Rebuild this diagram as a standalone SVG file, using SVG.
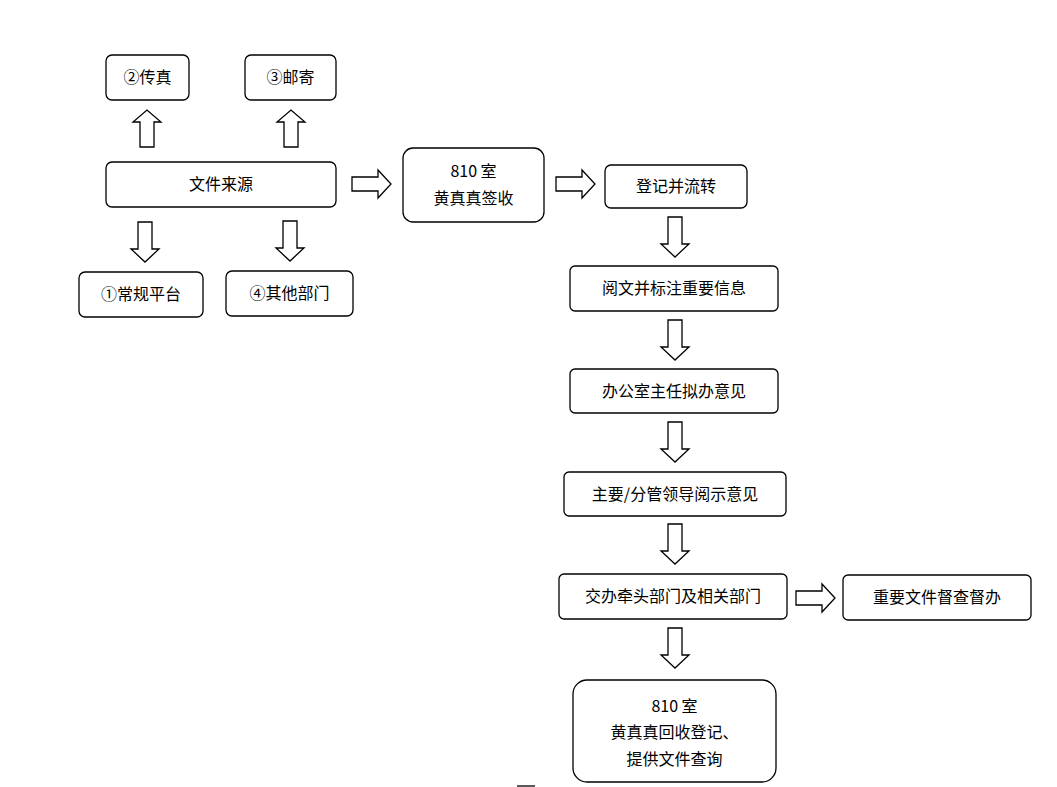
<svg xmlns="http://www.w3.org/2000/svg" width="1057" height="787" viewBox="0 0 1057 787">
<style>
.b{fill:#fff;stroke:#000;stroke-width:1.3}
.a{fill:#fff;stroke:#000;stroke-width:1.3;stroke-linejoin:miter}
text{font-family:"Noto Sans CJK SC","Liberation Sans",sans-serif;font-size:16px;text-anchor:middle;fill:#000}
</style>
<defs>
<path id="dn" d="M-7,0 H7 V27 H14 L0,40 L-14,27 H-7 Z"/>
<path id="up" d="M-7,37 H7 V12 H14 L0,0 L-14,12 H-7 Z"/>
<path id="rt" d="M0,-7 V7 H26 V14 L39,0 L26,-14 V-7 Z"/>
</defs>
<rect width="1057" height="787" fill="#fff"/>
<g id="connectors">
<use href="#up" x="147" y="110" class="a"/>
<use href="#up" x="291" y="110" class="a"/>
<use href="#dn" x="145" y="222" class="a"/>
<use href="#dn" x="290" y="221" class="a"/>
<use href="#rt" x="352" y="184" class="a"/>
<use href="#rt" x="556" y="184" class="a"/>
<use href="#rt" x="796" y="598" class="a"/>
<use href="#dn" x="675" y="217" class="a"/>
<use href="#dn" x="675" y="320" class="a"/>
<use href="#dn" x="675" y="422" class="a"/>
<use href="#dn" x="675" y="524" class="a"/>
<use href="#dn" x="675" y="628" class="a"/>
</g>
<g id="n1"><rect class="b" x="106" y="55" width="83" height="45" rx="6"/><text x="147.5" y="83">②传真</text></g>
<g id="n2"><rect class="b" x="245" y="55" width="91" height="45" rx="6"/><text x="290.5" y="83">③邮寄</text></g>
<g id="n3"><rect class="b" x="106" y="162" width="230" height="45" rx="6"/><text x="221" y="190">文件来源</text></g>
<g id="n4"><rect class="b" x="79" y="272" width="124" height="45" rx="6"/><text x="141" y="300">①常规平台</text></g>
<g id="n5"><rect class="b" x="226" y="271" width="127" height="45" rx="6"/><text x="289.5" y="299">④其他部门</text></g>
<g id="n6"><rect class="b" x="403" y="148" width="141" height="74" rx="10"/><text x="473.5" y="177">810 室</text><text x="473.5" y="204">黄真真签收</text></g>
<g id="n7"><rect class="b" x="605" y="165" width="142" height="43" rx="6"/><text x="676" y="192">登记并流转</text></g>
<g id="n8"><rect class="b" x="570" y="266" width="208" height="45" rx="5"/><text x="674" y="294">阅文并标注重要信息</text></g>
<g id="n9"><rect class="b" x="570" y="369" width="208" height="44" rx="5"/><text x="674" y="397">办公室主任拟办意见</text></g>
<g id="n10"><rect class="b" x="564" y="472" width="222" height="44" rx="5"/><text x="675" y="500">主要/分管领导阅示意见</text></g>
<g id="n11"><rect class="b" x="559" y="574" width="228" height="45" rx="5"/><text x="673" y="602">交办牵头部门及相关部门</text></g>
<g id="n12"><rect class="b" x="843" y="575" width="188" height="45" rx="5"/><text x="937" y="603">重要文件督查督办</text></g>
<g id="n13"><rect class="b" x="573" y="680" width="203" height="102" rx="14"/><text x="674.5" y="712">810 室</text><text x="674.5" y="738">黄真真回收登记、</text><text x="674.5" y="765">提供文件查询</text></g>
<line x1="517" y1="786" x2="535" y2="786" stroke="#000" stroke-width="1.3"/>
</svg>
